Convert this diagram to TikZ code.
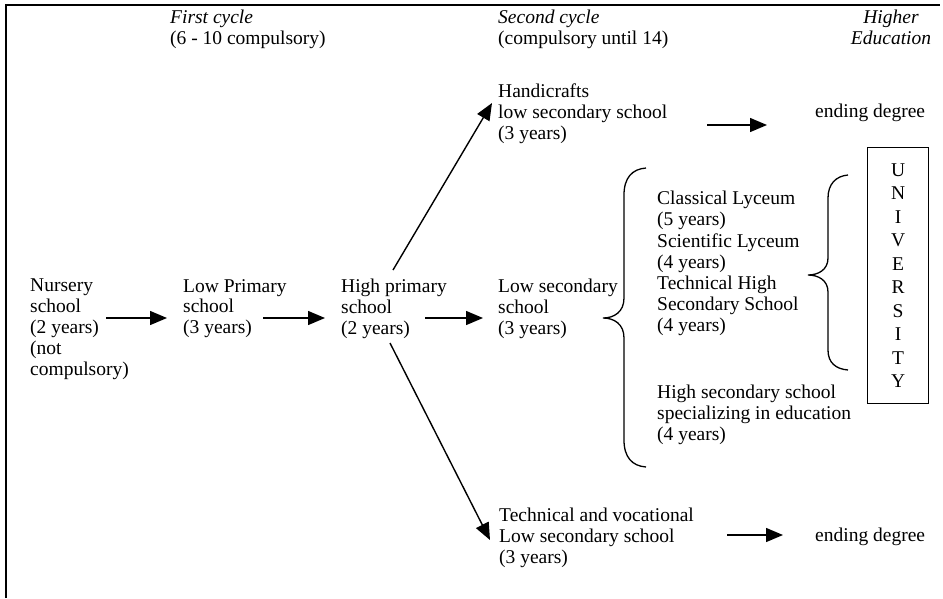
\documentclass[tikz,border=0pt]{standalone}
\usepackage{fontspec}
\setmainfont{Liberation Serif}
\usetikzlibrary{arrows.meta}
\begin{document}
\begin{tikzpicture}[x=1pt,y=-1pt,
  txt/.style={anchor=north west, inner sep=0pt, align=left, font=\fontsize{19.5}{20.8}\selectfont},
  arr/.style={line width=1.4pt, -{Triangle[length=17pt,width=14pt]}},
  ln/.style={line width=1.3pt}]
\useasboundingbox (0,0) rectangle (943,598);
\draw[line width=1.8pt] (6,598) -- (6,5) -- (940,5);
% headings
\node[txt] (first) at (170,10) {\textit{First cycle}\\(6 - 10 compulsory)};
\node[txt] (second) at (498,10) {\textit{Second cycle}\\(compulsory until 14)};
\node[txt, anchor=north, align=center] (higher) at (891,10) {\textit{Higher}\\\textit{Education}};
% main row
\node[txt] (nursery) at (30,279) {Nursery\\school\\(2 years)\\(not\\compulsory)};
\node[txt] (lowprim) at (183,279) {Low Primary\\school\\(3 years)};
\node[txt] (highprim) at (341,279) {High primary\\school\\(2 years)};
\node[txt] (lowsec) at (498,279) {Low secondary\\school\\(3 years)};
\node[txt] (handi) at (498,84) {Handicrafts\\low secondary school\\(3 years)};
\node[txt] (end1) at (815,104) {ending degree};
\node[txt, font=\fontsize{19.5}{21.2}\selectfont] (lyc) at (657,191) {Classical Lyceum\\(5 years)\\Scientific Lyceum\\(4 years)\\Technical High\\Secondary School\\(4 years)};
\node[txt] (hse) at (657,385) {High secondary school\\specializing in education\\(4 years)};
\node[txt] (tech) at (499,508) {Technical and vocational\\Low secondary school\\(3 years)};
\node[txt] (end2) at (815,528) {ending degree};
\node[draw, line width=1.3pt, anchor=north west, minimum width=61pt, minimum height=256pt, inner sep=0pt, align=center, font=\fontsize{19.5}{23.5}\selectfont] (univ) at (867,147) {U\\N\\I\\V\\E\\R\\S\\I\\T\\Y};
% arrow end points
\coordinate (a1s) at (106,318); \coordinate (a1e) at (167,318);
\coordinate (a2s) at (263,318); \coordinate (a2e) at (325,318);
\coordinate (a3s) at (425,318); \coordinate (a3e) at (483,318);
\coordinate (ups) at (393,270); \coordinate (upe) at (492,103);
\coordinate (dns) at (390,343); \coordinate (dne) at (490,540);
\coordinate (a4s) at (707,125); \coordinate (a4e) at (767,125);
\coordinate (a5s) at (727,535); \coordinate (a5e) at (783,535);
\draw[arr] (a1s) -- (a1e);
\draw[arr] (a2s) -- (a2e);
\draw[arr] (a3s) -- (a3e);
\draw[arr] (ups) -- (upe);
\draw[arr] (dns) -- (dne);
\draw[arr] (a4s) -- (a4e);
\draw[arr] (a5s) -- (a5e);
% braces
\draw[ln] (646,168) .. controls (632,169) and (624,178) .. (624,195) -- (624,298)
  .. controls (624,312) and (614,318) .. (603,318)
  .. controls (614,318) and (624,324) .. (624,338) -- (624,440)
  .. controls (624,457) and (632,466) .. (646,467);
\draw[ln] (848,175) .. controls (836,176) and (828,184) .. (828,198) -- (828,258)
  .. controls (828,270) and (818,275) .. (808,275)
  .. controls (818,275) and (828,280) .. (828,292) -- (828,350)
  .. controls (828,363) and (836,369) .. (848,370);
\end{tikzpicture}
\end{document}
